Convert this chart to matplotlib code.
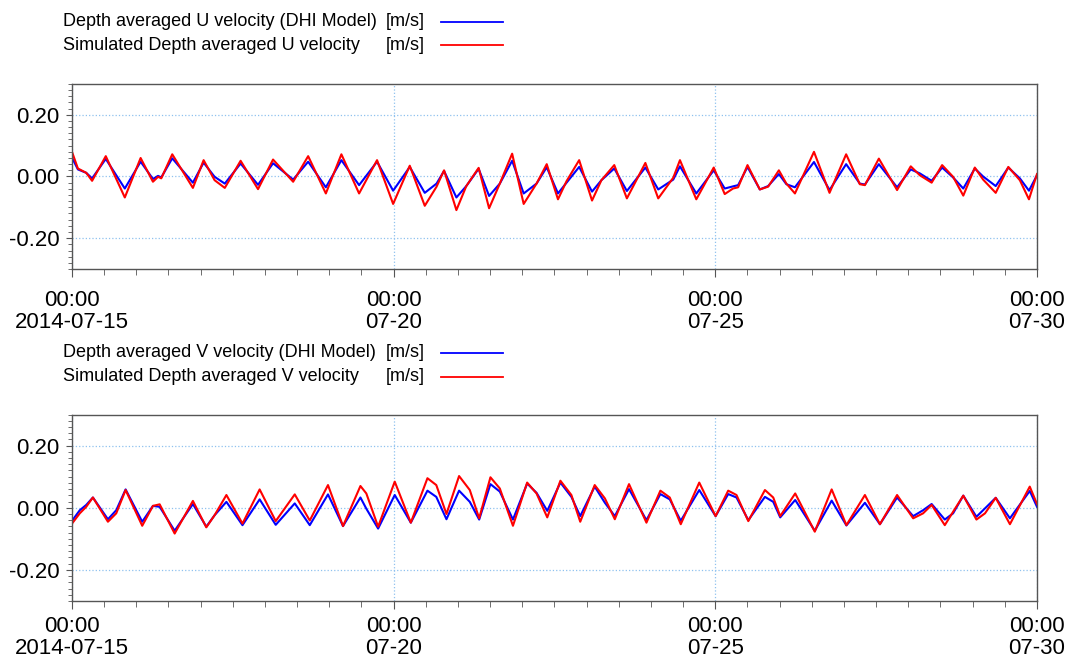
import matplotlib
matplotlib.use("Agg")
import matplotlib.pyplot as plt
import matplotlib.dates as mdates
from matplotlib.lines import Line2D
from matplotlib.ticker import MultipleLocator
import pandas as pd

plt.rcParams['font.family'] = ['Liberation Sans', 'DejaVu Sans']

start = pd.Timestamp("2014-07-15 00:00")
end = pd.Timestamp("2014-07-30 00:00")

# hours since 2014-07-15 00:00, values in m/s
u_hours = [0, 2.2, 5.3, 7.5, 12.6, 19.7, 25.6, 30.2, 32.1, 33.3, 37.4, 45.1, 49.1, 53.2, 57.0,
           62.9, 69.4, 75.0, 82.5, 88.1, 94.7, 100.5, 107.1, 113.8, 119.8, 126.0, 131.6, 136.0,
           138.8, 143.4, 147.1, 151.7, 155.6, 159.6, 164.2, 168.5, 173.3, 177.1, 181.3, 184.5,
           189.2, 194.0, 197.5, 202.3, 207.0, 213.9, 218.7, 224.3, 226.8, 232.9, 239.4, 243.5,
           246.6, 248.5, 252.0, 256.6, 259.7, 263.7, 266.5, 269.7, 276.8, 282.6, 288.8, 293.9,
           295.8, 301.0, 307.8, 312.9, 316.3, 320.7, 324.6, 328.7, 332.5, 336.8, 339.9, 344.6,
           349.3, 353.6, 357.0, 360.0]
u_dhi = [0.061, 0.023, 0.012, -0.006, 0.057, -0.039, 0.048, -0.008, 0.002, -0.003, 0.059, -0.020,
         0.045, -0.001, -0.023, 0.042, -0.027, 0.043, -0.010, 0.048, -0.035, 0.053, -0.028, 0.048,
         -0.046, 0.031, -0.053, -0.023, 0.018, -0.068, -0.031, 0.025, -0.063, -0.023, 0.051,
         -0.055, -0.023, 0.030, -0.055, -0.020, 0.031, -0.049, -0.012, 0.026, -0.047, 0.029,
         -0.042, -0.010, 0.033, -0.055, 0.020, -0.039, -0.032, -0.028, 0.031, -0.042, -0.031,
         0.008, -0.025, -0.035, 0.047, -0.044, 0.040, -0.023, -0.026, 0.040, -0.035, 0.023, 0.010,
         -0.014, 0.029, -0.003, -0.039, 0.026, 0.000, -0.031, 0.029, -0.006, -0.046, 0.004]
u_sim = [0.080, 0.026, 0.012, -0.014, 0.066, -0.068, 0.060, -0.017, -0.001, -0.006, 0.072, -0.037,
         0.053, -0.012, -0.037, 0.051, -0.041, 0.055, -0.017, 0.066, -0.055, 0.072, -0.055, 0.053,
         -0.089, 0.035, -0.095, -0.033, 0.020, -0.109, -0.031, 0.028, -0.103, -0.023, 0.074,
         -0.089, -0.023, 0.040, -0.074, -0.015, 0.053, -0.078, -0.012, 0.037, -0.071, 0.044,
         -0.071, -0.004, 0.053, -0.074, 0.029, -0.057, -0.039, -0.035, 0.037, -0.042, -0.033,
         0.020, -0.023, -0.055, 0.080, -0.053, 0.072, -0.025, -0.028, 0.058, -0.044, 0.033, 0.004,
         -0.020, 0.037, -0.001, -0.062, 0.029, -0.010, -0.053, 0.031, -0.012, -0.074, 0.008]

v_hours = [0, 2.9, 5.3, 7.8, 13.4, 16.5, 20.0, 26.2, 30.2, 32.7, 38.3, 45.1, 50.1, 53.2, 57.6,
           63.6, 70.0, 76.0, 83.1, 88.7, 95.5, 101.1, 107.6, 109.8, 114.2, 120.4, 126.4, 132.6,
           135.9, 139.7, 144.4, 148.4, 151.9, 156.1, 159.6, 164.5, 169.8, 173.3, 177.3, 182.2,
           186.3, 189.6, 195.0, 198.8, 202.5, 207.8, 214.3, 219.5, 223.0, 227.1, 234.0, 240.1,
           244.8, 247.9, 252.3, 258.5, 261.6, 264.2, 269.8, 277.1, 283.4, 288.9, 295.8, 301.4,
           307.8, 313.8, 317.5, 320.7, 325.6, 328.7, 332.5, 337.4, 340.6, 344.6, 349.9, 357.3, 360.0]
v_dhi = [-0.042, -0.008, 0.009, 0.033, -0.037, -0.008, 0.059, -0.045, 0.006, 0.003, -0.074, 0.012,
         -0.061, -0.024, 0.019, -0.056, 0.027, -0.055, 0.014, -0.056, 0.043, -0.059, 0.033, -0.003,
         -0.067, 0.041, -0.048, 0.055, 0.035, -0.037, 0.055, 0.019, -0.038, 0.076, 0.052, -0.038,
         0.078, 0.048, -0.010, 0.081, 0.035, -0.027, 0.068, 0.016, -0.027, 0.060, -0.040, 0.044,
         0.027, -0.042, 0.057, -0.027, 0.044, 0.033, -0.040, 0.035, 0.019, -0.031, 0.025, -0.074,
         0.023, -0.057, 0.016, -0.053, 0.033, -0.027, -0.008, 0.012, -0.038, -0.018, 0.039,
         -0.029, -0.002, 0.032, -0.034, 0.054, 0.003]
v_sim = [-0.051, -0.018, 0.003, 0.033, -0.045, -0.018, 0.057, -0.058, 0.006, 0.011, -0.083, 0.022,
         -0.063, -0.024, 0.041, -0.051, 0.059, -0.043, 0.043, -0.041, 0.073, -0.059, 0.070, 0.046,
         -0.061, 0.084, -0.048, 0.095, 0.073, -0.020, 0.102, 0.057, -0.034, 0.098, 0.062, -0.058,
         0.081, 0.046, -0.031, 0.087, 0.041, -0.045, 0.073, 0.030, -0.037, 0.076, -0.048, 0.055,
         0.033, -0.053, 0.081, -0.027, 0.055, 0.041, -0.043, 0.057, 0.033, -0.027, 0.046, -0.077,
         0.059, -0.056, 0.041, -0.053, 0.041, -0.034, -0.018, 0.009, -0.056, -0.013, 0.039,
         -0.038, -0.018, 0.032, -0.053, 0.068, 0.012]

tick_days = ["2014-07-15", "2014-07-20", "2014-07-25", "2014-07-30"]
tick_labels = ["00:00\n2014-07-15", "00:00\n07-20", "00:00\n07-25", "00:00\n07-30"]
y_ticks = [-0.2, 0.0, 0.2]
y_labels = ["-0.20", "0.00", "0.20"]

u_names = ["Depth averaged U velocity (DHI Model)", "Simulated Depth averaged U velocity"]
v_names = ["Depth averaged V velocity (DHI Model)", "Simulated Depth averaged V velocity"]
unit = "[m/s]"

W, H = 1066, 661
fig = plt.figure(figsize=(W / 100, H / 100), dpi=100)


def panel(rect, hours, dhi, sim, xpad):
    ax = fig.add_axes(rect)
    t = start + pd.to_timedelta(hours, unit="h")
    ax.plot(t, dhi, color="#0000ff", lw=1.5, solid_joinstyle="round")
    ax.plot(t, sim, color="#ff0000", lw=1.5, solid_joinstyle="round")
    ax.set_xlim(start, end)
    ax.set_ylim(-0.3, 0.3)
    ax.set_xticks(pd.to_datetime(tick_days))
    ax.set_xticklabels(tick_labels, fontsize=16)
    ax.xaxis.set_minor_locator(mdates.HourLocator(byhour=[0, 12]))
    ax.set_yticks(y_ticks)
    ax.set_yticklabels(y_labels, fontsize=16)
    ax.yaxis.set_minor_locator(MultipleLocator(0.02))
    ax.tick_params(axis="x", which="major", length=6, pad=xpad, color="#555555")
    ax.tick_params(axis="x", which="minor", length=4, color="#555555")
    ax.tick_params(axis="y", which="major", length=4, pad=5, color="#555555")
    ax.tick_params(axis="y", which="minor", length=3, color="#555555")
    for lbl in ax.get_xticklabels():
        lbl.set_linespacing(1.1)
    ax.grid(which="major", color="#8fc1ef", linestyle=":", linewidth=0.9)
    ax.set_axisbelow(True)
    for s in ax.spines.values():
        s.set_color("#555555")
        s.set_linewidth(1.0)
    return ax


def legend(names, y1, y2):
    for name, y, c in [(names[0], y1, "#0000ff"), (names[1], y2, "#ff0000")]:
        fig.text(63 / W, 1 - y / H, name, fontsize=13, va="center", ha="left")
        fig.text(425 / W, 1 - y / H, unit, fontsize=13, va="center", ha="right")
        fig.add_artist(Line2D([441 / W, 503 / W], [1 - y / H, 1 - y / H],
                              transform=fig.transFigure, color=c, lw=1.3))


panel([72 / W, 1 - 269 / H, 965 / W, 185 / H], u_hours, u_dhi, u_sim, 9)
panel([72 / W, 1 - 601 / H, 965 / W, 186.5 / H], v_hours, v_dhi, v_sim, 4.5)
legend(u_names, 21.5, 45)
legend(v_names, 352.5, 376.5)

fig.savefig("out.png", dpi=100)
